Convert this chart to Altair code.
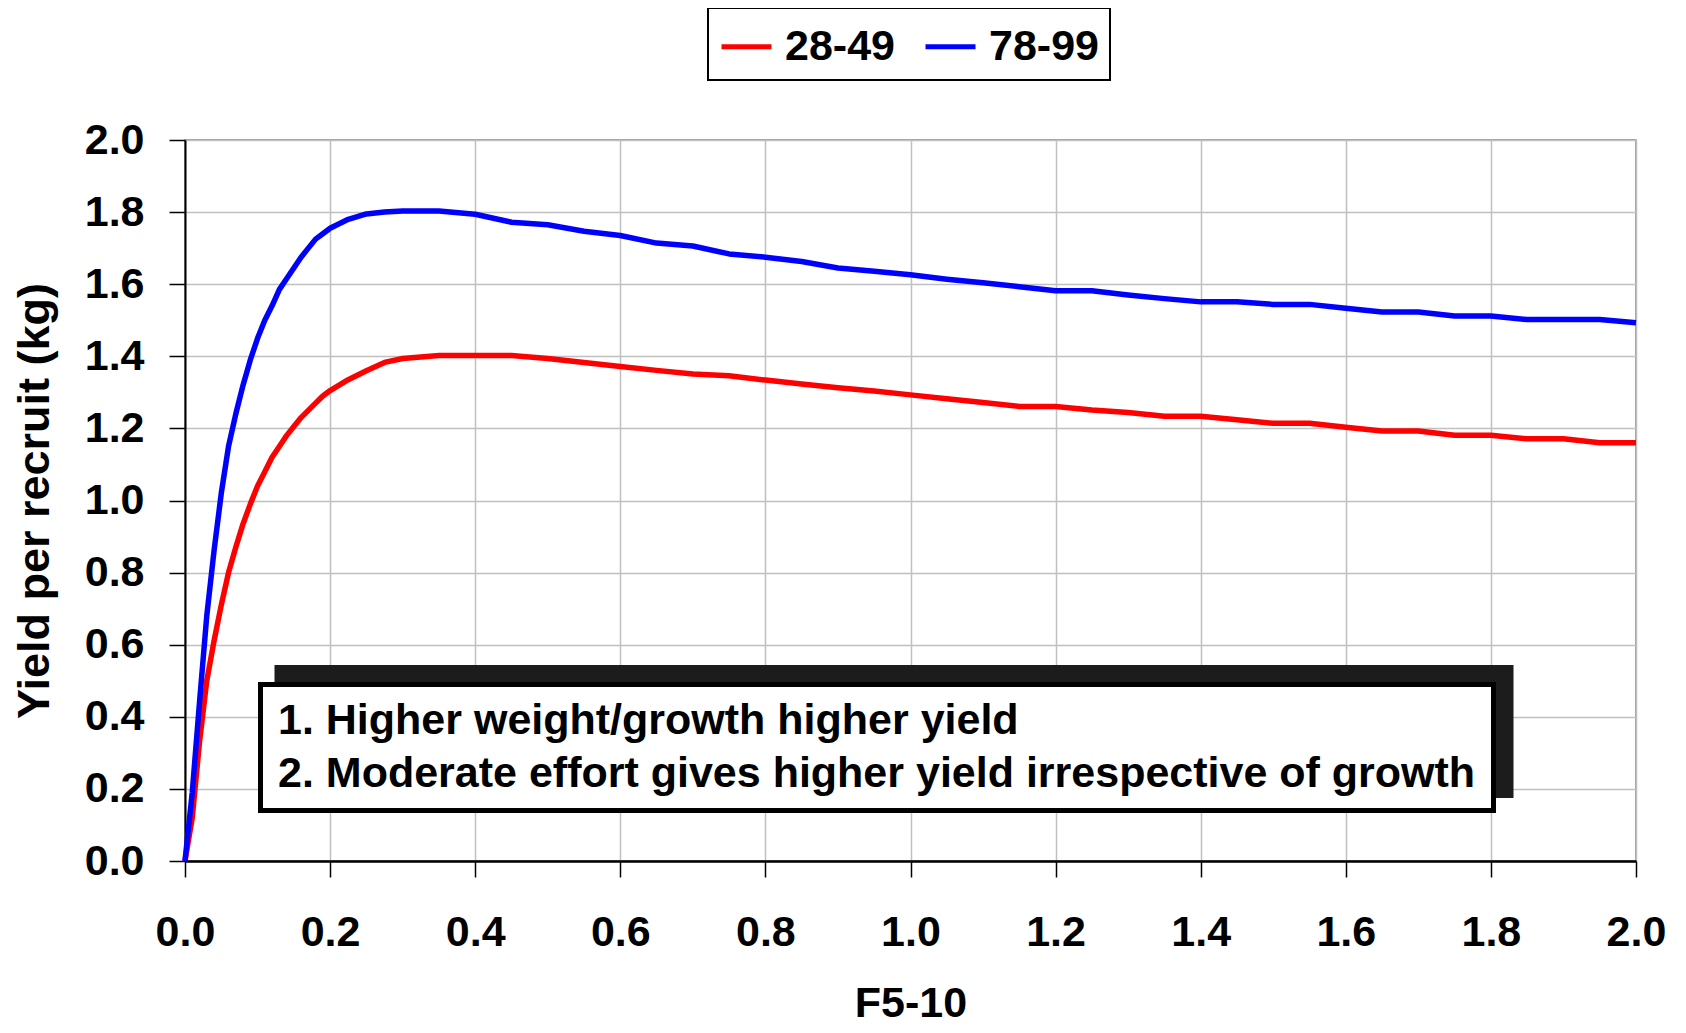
import altair as alt
import pandas as pd

# ---- data ----
F_VALUES = [0.00, 0.01, 0.02, 0.03, 0.04, 0.05, 0.06, 0.07, 0.08, 0.09,
            0.10, 0.11, 0.12, 0.13, 0.14, 0.15, 0.16, 0.17, 0.18, 0.19,
            0.20, 0.225, 0.25, 0.275, 0.30, 0.35, 0.40, 0.45, 0.50, 0.55,
            0.60, 0.65, 0.70, 0.75, 0.80, 0.85, 0.90, 0.95, 1.00, 1.05,
            1.10, 1.15, 1.20, 1.25, 1.30, 1.35, 1.40, 1.45, 1.50, 1.55,
            1.60, 1.65, 1.70, 1.75, 1.80, 1.85, 1.90, 1.95, 2.00]

YPR_28_49 = [0.00, 0.12, 0.33, 0.50, 0.61, 0.71, 0.80, 0.87, 0.935, 0.99,
             1.04, 1.08, 1.12, 1.15, 1.18, 1.205, 1.23, 1.25, 1.27, 1.29,
             1.305, 1.335, 1.36, 1.383, 1.394, 1.402, 1.402, 1.402, 1.394, 1.383,
             1.372, 1.361, 1.351, 1.346, 1.334, 1.323, 1.313, 1.304, 1.293, 1.282,
             1.272, 1.261, 1.261, 1.251, 1.244, 1.234, 1.234, 1.224, 1.214, 1.214,
             1.203, 1.193, 1.193, 1.181, 1.181, 1.171, 1.171, 1.160, 1.160]

YPR_78_99 = [0.00, 0.19, 0.44, 0.68, 0.86, 1.02, 1.15, 1.24, 1.32, 1.39,
             1.45, 1.50, 1.54, 1.585, 1.615, 1.645, 1.675, 1.70, 1.725, 1.74,
             1.755, 1.78, 1.795, 1.80, 1.803, 1.803, 1.794, 1.772, 1.765, 1.747,
             1.735, 1.714, 1.706, 1.684, 1.675, 1.663, 1.645, 1.636, 1.626, 1.614,
             1.604, 1.593, 1.582, 1.582, 1.570, 1.560, 1.551, 1.551, 1.544, 1.544,
             1.533, 1.523, 1.523, 1.512, 1.512, 1.502, 1.502, 1.502, 1.493]

SERIES = ["28-49", "78-99"]
COLORS = ["#FF0000", "#0000FF"]
X_TICKS = [0.0, 0.2, 0.4, 0.6, 0.8, 1.0, 1.2, 1.4, 1.6, 1.8, 2.0]
Y_TICKS = [0.0, 0.2, 0.4, 0.6, 0.8, 1.0, 1.2, 1.4, 1.6, 1.8, 2.0]
X_TITLE = "F5-10"
Y_TITLE = "Yield per recruit (kg)"
NOTE_LINES = ["1. Higher weight/growth higher yield",
              "2. Moderate effort gives higher yield irrespective of growth"]

FONT = "Liberation Sans"
FS = 43

n = len(F_VALUES)
df = pd.DataFrame({
    "F": F_VALUES + F_VALUES,
    "Y": YPR_28_49 + YPR_78_99,
    "series": [SERIES[0]] * n + [SERIES[1]] * n,
})

W, H = 1451, 721

lines = alt.Chart(df).mark_line(strokeWidth=5.5, strokeJoin="round").encode(
    x=alt.X("F:Q",
            scale=alt.Scale(domain=[0, 2], nice=False, zero=False),
            axis=alt.Axis(values=X_TICKS, format=".1f", title=X_TITLE,
                          labelPadding=34, labelFlush=False, labelOverlap=False,
                          domainWidth=2.5, titleX=W / 2, titleY=121)),
    y=alt.Y("Y:Q",
            scale=alt.Scale(domain=[0, 2], nice=False),
            axis=alt.Axis(values=Y_TICKS, format=".1f", title=Y_TITLE,
                          labelPadding=25, labelFlush=False, labelOverlap=False,
                          domainWidth=2, titleX=-128, titleY=H / 2,
                          titleFontSize=45)),
    color=alt.Color("series:N",
                    scale=alt.Scale(domain=SERIES, range=COLORS),
                    legend=alt.Legend(title=None, orient="none",
                                      legendX=523, legendY=-132,
                                      direction="horizontal",
                                      symbolType="stroke", symbolSize=2500,
                                      symbolStrokeWidth=5,
                                      labelFontSize=FS, labelFont=FONT,
                                      labelFontWeight="bold", labelColor="black",
                                      labelOffset=11, columnPadding=20,
                                      padding=11, strokeColor="black",
                                      fillColor="white")),
)

one = pd.DataFrame({"k": [0]})

shadow = alt.Chart(one).mark_rect(color="#1c1c1c", opacity=1).encode(
    x=alt.value(89.5), x2=alt.value(1328.5),
    y=alt.value(525), y2=alt.value(658),
)
box = alt.Chart(one).mark_rect(fill="white", stroke="black", strokeWidth=5,
                               opacity=1).encode(
    x=alt.value(75.5), x2=alt.value(1308.5),
    y=alt.value(544.5), y2=alt.value(670.5),
)
note1 = alt.Chart(one).mark_text(text=NOTE_LINES[0], font=FONT, fontSize=FS,
                                 fontWeight="bold", align="left",
                                 baseline="alphabetic", color="black").encode(
    x=alt.value(93), y=alt.value(594))
note2 = alt.Chart(one).mark_text(text=NOTE_LINES[1], font=FONT, fontSize=FS,
                                 fontWeight="bold", align="left",
                                 baseline="alphabetic", color="black").encode(
    x=alt.value(93), y=alt.value(647))

chart = alt.layer(lines, shadow, box, note1, note2).properties(
    width=W, height=H,
    autosize=alt.AutoSizeParams(type="none"),
    padding={"left": 177, "top": 132, "right": 34, "bottom": 164},
).configure_view(
    stroke="#808080", strokeWidth=1.5,
).configure_axis(
    labelFont=FONT, labelFontSize=FS, labelFontWeight="bold", labelColor="black",
    titleFont=FONT, titleFontSize=FS, titleFontWeight="bold", titleColor="black",
    domainColor="black", tickColor="black", tickSize=16, tickWidth=1.5,
    gridColor="#C0C0C0", gridWidth=1.5,
).configure_legend(
    strokeWidth=2,
)

chart.save("out.html", embed_options={"renderer": "svg", "actions": False})
